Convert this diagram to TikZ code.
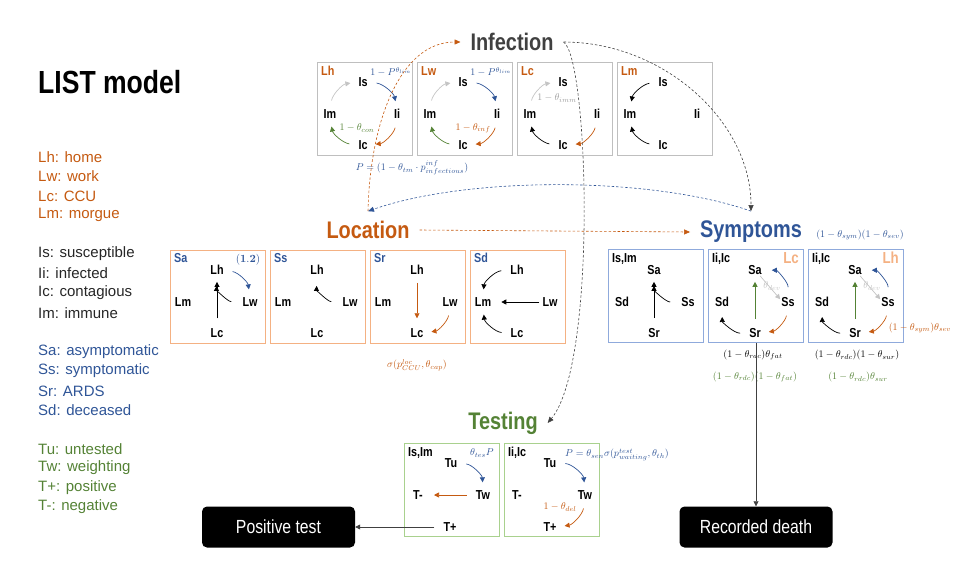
\documentclass[tikz,border=0pt]{standalone}
\usepackage{fix-cm}
\usepackage[no-math]{fontspec}
\setmainfont{Liberation Sans}
\newfontfamily\condfont[FakeStretch=0.83]{Liberation Sans}
\usetikzlibrary{arrows.meta}

\definecolor{corange}{HTML}{C55A11}
\definecolor{cpeach}{HTML}{F4B183}
\definecolor{cblue}{HTML}{2F5597}
\definecolor{cltblue}{HTML}{8FAADC}
\definecolor{cgreen}{HTML}{548235}
\definecolor{cltgreen}{HTML}{A9D18E}
\definecolor{cgray}{HTML}{BFBFBF}
\definecolor{clight}{HTML}{C4C4C4}
\definecolor{cdark}{HTML}{404040}
\definecolor{ctext}{HTML}{262626}

\tikzset{
  title/.style={font=\condfont\bfseries\fontsize{24}{26}\selectfont, inner sep=1pt, outer sep=9pt},
  legend/.style={font=\fontsize{15}{17}\selectfont, anchor=west, inner sep=0pt},
  st/.style={font=\condfont\bfseries\fontsize{13}{14}\selectfont, inner sep=1pt},
  corner/.style={st, anchor=north west},
  mlab/.style={font=\fontsize{10}{11}\selectfont, inner sep=0pt},
  minibox/.style={anchor=north west, line width=1pt, minimum width=95pt, minimum height=93pt, inner sep=0pt},
  arr/.style={-{Triangle[length=5pt,width=5pt]}, line width=0.7pt},
  cyc/.style={arr, shorten <=8pt, shorten >=7pt},
  link/.style={dash pattern=on 2.5pt off 2pt, line width=0.6pt, -{Triangle[length=6pt,width=5pt]}},
  endbox/.style={fill=black, rounded corners=5pt, text=white, font=\condfont\fontsize{19}{20}\selectfont, minimum width=153pt, minimum height=41pt}
}

\begin{document}
\begin{tikzpicture}[x=1pt,y=-1pt]
\useasboundingbox (0,0) rectangle (971,579);

\node[font=\condfont\bfseries\fontsize{32}{34}\selectfont, anchor=west, inner sep=0pt] (list) at (38,82) {LIST model};

\node[legend, text=corange] (lg1) at (38,157) {Lh: home};
\node[legend, text=corange] (lg2) at (38,176) {Lw: work};
\node[legend, text=corange] (lg3) at (38,196) {Lc: CCU};
\node[legend, text=corange] (lg4) at (38,215) {Lm: morgue};
\node[legend, text=ctext] (lg5) at (38,254) {Is: susceptible};
\node[legend, text=ctext] (lg6) at (38,273) {Ii: infected};
\node[legend, text=ctext] (lg7) at (38,293) {Ic: contagious};
\node[legend, text=ctext] (lg8) at (38,313) {Im: immune};
\node[legend, text=cblue] (lg9) at (38,352) {Sa: asymptomatic};
\node[legend, text=cblue] (lg10) at (38,371) {Ss: symptomatic};
\node[legend, text=cblue] (lg11) at (38,391) {Sr: ARDS};
\node[legend, text=cblue] (lg12) at (38,410) {Sd: deceased};
\node[legend, text=cgreen] (lg13) at (38,449) {Tu: untested};
\node[legend, text=cgreen] (lg14) at (38,468) {Tw: weighting};
\node[legend, text=cgreen] (lg15) at (38,488) {T+: positive};
\node[legend, text=cgreen] (lg16) at (38,507) {T-: negative};

\node[title, text=cdark] (inf) at (512,42) {Infection};
\node[title, text=corange] (loc) at (368,230) {Location};
\node[title, text=cblue] (sym) at (751,232) {Symptoms};
\node[title, text=cgreen] (test) at (503,423) {Testing};

% infection
\begin{scope}[shift={(317,62)}]
\node[minibox, draw=cgray] (ih) at (0,0) {};
\node[corner, text=corange] (ihl) at (3,3) {Lh};
\node[st] (ihs) at (46,20) {Is};
\node[st] (ihm) at (13,52) {Im};
\node[st] (ihi) at (80,52) {Ii};
\node[st] (ihc) at (46,83) {Ic};
\draw[cyc, clight] (ihm.north) to[bend left=35] (ihs.west);
\draw[cyc, cblue] (ihs.east) to[bend left=35] (ihi.north);
\draw[cyc, corange] (ihi.south) to[bend left=35] (ihc.east);
\draw[cyc, cgreen] (ihc.west) to[bend left=35] (ihm.south);
\node[mlab, text=cblue] (ihp) at (74,10) {$1-P^{\theta_{lim}}$};
\node[mlab, text=cgreen] (ihq) at (40,66) {$1-\theta_{con}$};
\end{scope}

\begin{scope}[shift={(417,62)}]
\node[minibox, draw=cgray] (iw) at (0,0) {};
\node[corner, text=corange] (iwl) at (3,3) {Lw};
\node[st] (iws) at (46,20) {Is};
\node[st] (iwm) at (13,52) {Im};
\node[st] (iwi) at (80,52) {Ii};
\node[st] (iwc) at (46,83) {Ic};
\draw[cyc, clight] (iwm.north) to[bend left=35] (iws.west);
\draw[cyc, cblue] (iws.east) to[bend left=35] (iwi.north);
\draw[cyc, corange] (iwi.south) to[bend left=35] (iwc.east);
\draw[cyc, cgreen] (iwc.west) to[bend left=35] (iwm.south);
\node[mlab, text=cblue] (iwp) at (74,10) {$1-P^{\theta_{lim}}$};
\node[mlab, text=corange] (iwq) at (56,66) {$1-\theta_{inf}$};
\end{scope}

\begin{scope}[shift={(517,62)}]
\node[minibox, draw=cgray] (ic) at (0,0) {};
\node[corner, text=corange] (icl) at (3,3) {Lc};
\node[st] (ics) at (46,20) {Is};
\node[st] (icm) at (13,52) {Im};
\node[st] (ici) at (80,52) {Ii};
\node[st] (icc) at (46,83) {Ic};
\draw[cyc, clight] (icm.north) to[bend left=35] (ics.west);
\draw[cyc, corange] (ici.south) to[bend left=35] (icc.east);
\draw[cyc] (icc.west) to[bend left=35] (icm.south);
\node[mlab, text=clight!80!black] (icq) at (40,36) {$1-\theta_{imm}$};
\end{scope}

\begin{scope}[shift={(617,62)}]
\node[minibox, draw=cgray] (im) at (0,0) {};
\node[corner, text=corange] (iml) at (3,3) {Lm};
\node[st] (ims) at (46,20) {Is};
\node[st] (imm) at (13,52) {Im};
\node[st] (imi) at (80,52) {Ii};
\node[st] (imc) at (46,83) {Ic};
\draw[cyc] (ims.west) to[bend right=35] (imm.north);
\draw[cyc] (imc.west) to[bend left=35] (imm.south);
\end{scope}

\node[mlab, text=cblue] (pinf) at (412,168) {$P=(1-\theta_{tm}\cdot p^{inf}_{infectious})$};

% location
\begin{scope}[shift={(170,250)}]
\node[minibox, draw=cpeach] (la) at (0,0) {};
\node[corner, text=cblue] (lal) at (3,2) {Sa};
\node[st] (lah) at (47,20) {Lh};
\node[st] (lam) at (13,52) {Lm};
\node[st] (law) at (80,52) {Lw};
\node[st] (lac) at (47,83) {Lc};
\draw[arr, shorten <=9pt, shorten >=6pt] (lac) -- (lah);
\draw[arr, shorten <=10pt, shorten >=10pt] (law.west) to[bend left=45] (lah.south);
\draw[cyc, cblue] (lah.east) to[bend left=35] (law.north);
\node[mlab, font=\fontsize{11}{12}\selectfont, text=cblue] (lan) at (78,10) {$\mathbf{(1.2)}$};
\end{scope}

\begin{scope}[shift={(270,250)}]
\node[minibox, draw=cpeach] (ls) at (0,0) {};
\node[corner, text=cblue] (lsl) at (3,2) {Ss};
\node[st] (lsh) at (47,20) {Lh};
\node[st] (lsm) at (13,52) {Lm};
\node[st] (lsw) at (80,52) {Lw};
\node[st] (lsc) at (47,83) {Lc};
\draw[arr, shorten <=10pt, shorten >=10pt] (lsw.west) to[bend left=45] (lsh.south);
\end{scope}

\begin{scope}[shift={(370,250)}]
\node[minibox, draw=cpeach] (lr) at (0,0) {};
\node[corner, text=cblue] (lrl) at (3,2) {Sr};
\node[st] (lrh) at (47,20) {Lh};
\node[st] (lrm) at (13,52) {Lm};
\node[st] (lrw) at (80,52) {Lw};
\node[st] (lrc) at (47,83) {Lc};
\draw[arr, corange, shorten <=7pt, shorten >=9pt] (lrh) -- (lrc);
\draw[cyc, corange] (lrw.south) to[bend left=35] (lrc.east);
\end{scope}

\begin{scope}[shift={(470,250)}]
\node[minibox, draw=cpeach] (ld) at (0,0) {};
\node[corner, text=cblue] (ldl) at (3,2) {Sd};
\node[st] (ldh) at (47,20) {Lh};
\node[st] (ldm) at (13,52) {Lm};
\node[st] (ldw) at (80,52) {Lw};
\node[st] (ldc) at (47,83) {Lc};
\draw[cyc] (ldh.west) to[bend right=40] (ldm.north);
\draw[arr, shorten <=2pt, shorten >=9pt] (ldw) -- (ldm);
\draw[cyc] (ldc.west) to[bend left=40] (ldm.south);
\end{scope}

\node[mlab, text=corange] (sloc) at (417,365) {$\sigma(p^{loc}_{CCU},\theta_{cap})$};

% symptoms
\node[mlab, text=cblue] (ssev) at (860,235) {$(1-\theta_{sym})(1-\theta_{sev})$};

\begin{scope}[shift={(608,249)}]
\node[minibox, draw=cltblue] (s1) at (0,0) {};
\node[corner] (s1l) at (3,3) {Is,Im};
\node[st] (s1a) at (46,21) {Sa};
\node[st] (s1d) at (14,53) {Sd};
\node[st] (s1s) at (80,53) {Ss};
\node[st] (s1r) at (46,84) {Sr};
\draw[arr, shorten <=9pt, shorten >=6pt] (s1r) -- (s1a);
\draw[arr, shorten <=10pt, shorten >=10pt] (s1s.west) to[bend left=45] (s1a.south);
\end{scope}

\begin{scope}[shift={(708,249)}]
\node[minibox, draw=cltblue] (s2) at (0,0) {};
\node[corner] (s2l) at (3,3) {Ii,Ic};
\node[st, anchor=north east, text=cpeach, font=\condfont\bfseries\fontsize{16}{17}\selectfont] (s2k) at (92,2) {Lc};
\node[st] (s2a) at (47,21) {Sa};
\node[st] (s2d) at (14,53) {Sd};
\node[st] (s2s) at (80,53) {Ss};
\node[st] (s2r) at (47,84) {Sr};
\draw[arr, cblue, shorten <=9pt, shorten >=9pt] (s2s.north) to[bend right=45] (s2a.east);
\draw[arr, cgreen, shorten <=8pt, shorten >=6pt] (s2r) -- (s2a);
\draw[arr, clight] ([shift={(5,22)}]s2a) -- ([shift={(-15,0)}]s2s);
\draw[cyc, corange] (s2s.south) to[bend left=35] (s2r.east);
\draw[arr, shorten <=8pt, shorten >=9pt] (s2r.west) to[bend left=45] (s2d.south);
\node[mlab, text=clight] (s2v) at (64,37) {$\theta_{dev}$};
\end{scope}

\begin{scope}[shift={(808,249)}]
\node[minibox, draw=cltblue] (s3) at (0,0) {};
\node[corner] (s3l) at (3,3) {Ii,Ic};
\node[st, anchor=north east, text=cpeach, font=\condfont\bfseries\fontsize{16}{17}\selectfont] (s3k) at (92,2) {Lh};
\node[st] (s3a) at (47,21) {Sa};
\node[st] (s3d) at (14,53) {Sd};
\node[st] (s3s) at (80,53) {Ss};
\node[st] (s3r) at (47,84) {Sr};
\draw[arr, cblue, shorten <=9pt, shorten >=9pt] (s3s.north) to[bend right=45] (s3a.east);
\draw[arr, cgreen, shorten <=8pt, shorten >=6pt] (s3r) -- (s3a);
\draw[arr, clight] ([shift={(5,22)}]s3a) -- ([shift={(-15,0)}]s3s);
\draw[cyc, corange] (s3s.south) to[bend left=35] (s3r.east);
\draw[arr, shorten <=8pt, shorten >=9pt] (s3r.west) to[bend left=45] (s3d.south);
\node[mlab, text=clight] (s3v) at (64,37) {$\theta_{dev}$};
\node[mlab, text=corange] (s3q) at (112,79) {$(1-\theta_{sym})\theta_{sev}$};
\end{scope}

\node[mlab] (sfat) at (753,355) {$(1-\theta_{rdc})\theta_{fat}$};
\node[mlab, text=cgreen] (sfatg) at (755,377) {$(1-\theta_{rdc})(1-\theta_{fat})$};
\node[mlab] (ssur) at (857,355) {$(1-\theta_{rdc})(1-\theta_{sur})$};
\node[mlab, text=cgreen] (ssurg) at (858,377) {$(1-\theta_{rdc})\theta_{sur}$};

% testing
\begin{scope}[shift={(404,443)}]
\node[minibox, draw=cltgreen] (t1) at (0,0) {};
\node[corner] (t1l) at (3,3) {Is,Im};
\node[st] (t1u) at (47,20) {Tu};
\node[st] (t1n) at (14,52) {T-};
\node[st] (t1w) at (79,52) {Tw};
\node[st] (t1p) at (46,84) {T+};
\draw[cyc, cblue] (t1u.east) to[bend left=40] (t1w.north);
\draw[arr, corange, shorten <=8pt, shorten >=10pt] (t1w) -- (t1n);
\node[mlab, text=cblue] (t1q) at (78,10) {$\theta_{tes}P$};
\end{scope}

\begin{scope}[shift={(504,443)}]
\node[minibox, draw=cltgreen] (t2) at (0,0) {};
\node[corner] (t2l) at (3,3) {Ii,Ic};
\node[st] (t2u) at (46,20) {Tu};
\node[st] (t2n) at (13,52) {T-};
\node[st] (t2w) at (81,52) {Tw};
\node[st] (t2p) at (46,84) {T+};
\draw[cyc, cblue] (t2u.east) to[bend left=40] (t2w.north);
\draw[cyc, corange] (t2w.south) to[bend left=35] (t2p.east);
\node[mlab, text=cblue] (t2q) at (113,12) {$P=\theta_{sen}\sigma(p^{test}_{waiting},\theta_{th})$};
\node[mlab, text=corange] (t2r) at (56,64) {$1-\theta_{del}$};
\end{scope}

\node[endbox] (pos) at (278.5,527) {Positive test};
\node[endbox] (rec) at (756,527) {Recorded death};
\draw[arr, cdark, shorten <=8pt] (t1p) -- (pos);
\draw[arr, cdark] (s2.south) -- (rec.north);

% links
\draw[link, corange] (loc.north) .. controls +(2,-90) and +(-60,0) .. (inf.west);
\draw[link, corange] (loc.east) -- (sym.west);
\draw[link, cblue] (sym.north) .. controls +(-100,-35) and +(100,-35) .. (loc.north);
\draw[link, cdark] (inf.east) .. controls +(100,0) and +(0,-90) .. (sym.north);
\draw[link, cdark] (inf.east) .. controls +(25,15) and +(50,-60) .. (test.east);
\end{tikzpicture}
\end{document}
